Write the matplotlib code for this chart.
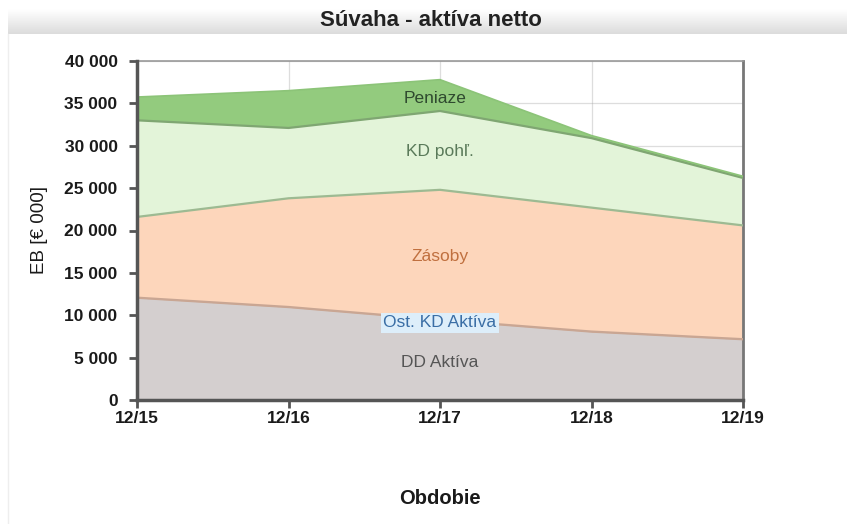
import matplotlib
matplotlib.use("Agg")
import matplotlib.pyplot as plt
import numpy as np
from matplotlib.ticker import FuncFormatter, MultipleLocator

periods = ["12/15", "12/16", "12/17", "12/18", "12/19"]
dd_aktiva = [12000, 10900, 9400, 8000, 7100]
ost_kd_aktiva = [100, 100, 100, 100, 100]
zasoby = [9500, 12800, 15300, 14600, 13400]
kd_pohl = [11400, 8300, 9300, 8200, 5600]
peniaze = [2750, 4400, 3700, 300, 200]

series_names = ["DD Aktíva", "Ost. KD Aktíva", "Zásoby", "KD pohľ.", "Peniaze"]
fills = ["#d4cfcf", "#d9c9c4", "#fdd6bb", "#e3f4d9", "#93cb7e"]
edges = ["#c9a693", "#c9a693", "#9dba92", "#7fa672", "#8cc478"]
widths = [0.8, 1.3, 1.6, 1.6, 1.2]

plt.rcParams['font.family'] = ['Liberation Sans', 'DejaVu Sans']
fig = plt.figure(figsize=(8.47, 5.24), dpi=100)

# title band
tax = fig.add_axes([8/847, 1-34/524, 1-8/847, 25/524])
grad = np.linspace(1.0, 0.86, 64).reshape(-1, 1)
tax.imshow(grad, aspect='auto', cmap='gray', vmin=0, vmax=1, extent=[0, 1, 0, 1])
tax.set_axis_off()
fig.text(431/847, 1-21/524, "Súvaha - aktíva netto", ha='center', va='center',
         fontsize=16, fontweight='bold', color='#222222')
fig.add_artist(plt.Line2D([8/847, 8/847], [0, 1-34/524], color='#eeeeee', lw=1))

ax = fig.add_axes([137/847, 1-400/524, (743-137)/847, (400-61)/524])
x = np.arange(len(periods))
data = [dd_aktiva, ost_kd_aktiva, zasoby, kd_pohl, peniaze]
base = np.zeros(len(periods))
for vals, fc, ec, lw in zip(data, fills, edges, widths):
    top = base + np.array(vals)
    ax.fill_between(x, base, top, facecolor=fc, edgecolor='none', zorder=2)
    ax.plot(x, top, color=ec, lw=lw, zorder=3)
    base = top

ax.set_xlim(0, len(periods) - 1)
ax.set_ylim(0, 40000)
ax.yaxis.set_major_locator(MultipleLocator(5000))
ax.yaxis.set_major_formatter(FuncFormatter(lambda v, p: f"{int(v):,}".replace(",", " ")))
ax.set_xticks(x)
ax.set_xticklabels(periods)
ax.grid(True, color='#a0a0a0', alpha=0.35, lw=0.9, zorder=4)
for lab in ax.get_xticklabels() + ax.get_yticklabels():
    lab.set_fontweight('bold')
    lab.set_fontsize(12.5)
    lab.set_color('#1a1a1a')
ax.tick_params(axis='y', length=6, width=2, color='#555555', pad=8)
ax.tick_params(axis='x', length=6, width=2, color='#555555', pad=2)
for s in ['left', 'bottom']:
    ax.spines[s].set_color('#555555')
    ax.spines[s].set_linewidth(2.5)
    ax.spines[s].set_zorder(6)
ax.spines['right'].set_color('#777777')
ax.spines['right'].set_linewidth(2)
ax.spines['top'].set_color('#999999')
ax.spines['top'].set_linewidth(1.2)

ax.set_ylabel("EB [€ 000]", fontsize=13.5, color='#1a1a1a', labelpad=12)
ax.set_xlabel("Obdobie", fontsize=14.5, fontweight='bold', color='#1a1a1a', labelpad=45)

lbl_kw = dict(ha='center', va='center', fontsize=12.5, zorder=5)
ax.text(1.97, 35600, "Peniaze", color='#2f4a2f', **lbl_kw)
ax.text(2.0, 29300, "KD pohľ.", color='#5a7a5a', **lbl_kw)
ax.text(2.0, 16900, "Zásoby", color='#c0703f', **lbl_kw)
ax.text(2.0, 9100, "Ost. KD Aktíva", color='#3a6ea5',
        bbox=dict(boxstyle='square,pad=0.15', facecolor='#ddeefa', edgecolor='none'), **lbl_kw)
ax.text(2.0, 4400, "DD Aktíva", color='#555555', **lbl_kw)

fig.savefig("out.png", dpi=100)
